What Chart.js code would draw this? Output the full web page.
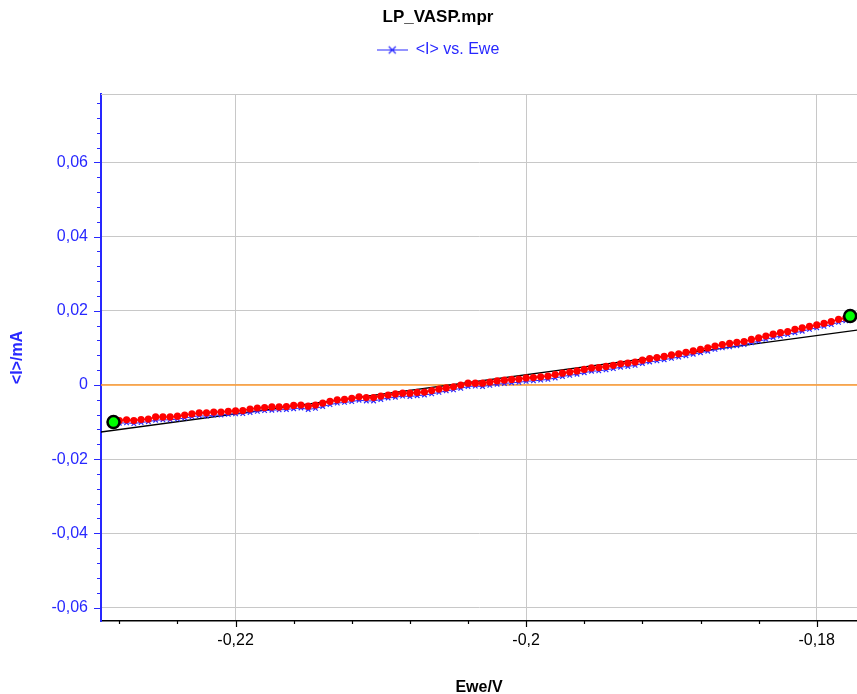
<!DOCTYPE html>
<html><head><meta charset="utf-8">
<script src="https://cdn.jsdelivr.net/npm/chart.js@4.4.0/dist/chart.umd.min.js"></script>
<style>html,body{margin:0;padding:0;background:#fff;}#wrap{width:857px;height:694px;}</style>
</head><body><div id="wrap"><canvas id="c" width="857" height="694"></canvas></div>
<script>
// Ewe/V
const potential = [
-0.2285,-0.228,-0.2275,-0.227,-0.2265,-0.226,-0.2255,-0.225,-0.2245,-0.224,
-0.2235,-0.223,-0.2225,-0.222,-0.2215,-0.221,-0.2205,-0.22,-0.2195,-0.219,
-0.2185,-0.218,-0.2175,-0.217,-0.2165,-0.216,-0.2155,-0.215,-0.2145,-0.214,
-0.2135,-0.213,-0.2125,-0.212,-0.2115,-0.211,-0.2105,-0.21,-0.2095,-0.209,
-0.2085,-0.208,-0.2075,-0.207,-0.2065,-0.206,-0.2055,-0.205,-0.2045,-0.204,
-0.2035,-0.203,-0.2025,-0.202,-0.2015,-0.201,-0.2005,-0.2,-0.1995,-0.199,
-0.1985,-0.198,-0.1975,-0.197,-0.1965,-0.196,-0.1955,-0.195,-0.1945,-0.194,
-0.1935,-0.193,-0.1925,-0.192,-0.1915,-0.191,-0.1905,-0.19,-0.1895,-0.189,
-0.1885,-0.188,-0.1875,-0.187,-0.1865,-0.186,-0.1855,-0.185,-0.1845,-0.184,
-0.1835,-0.183,-0.1825,-0.182,-0.1815,-0.181,-0.1805,-0.18,-0.1795,-0.179,
-0.1785,-0.178];
// <I>/mA, highlighted points (red)
const currentRed = [
-0.0097,-0.0096,-0.0094,-0.0096,-0.0093,-0.0092,-0.0086,-0.0086,-0.0086,-0.0084,
-0.0081,-0.0078,-0.0075,-0.0075,-0.0073,-0.0073,-0.0071,-0.0070,-0.0069,-0.0065,
-0.0062,-0.0061,-0.0059,-0.0059,-0.0058,-0.0055,-0.0054,-0.0057,-0.0054,-0.0049,
-0.0044,-0.0040,-0.0039,-0.0036,-0.0032,-0.0034,-0.0034,-0.0030,-0.0027,-0.0024,
-0.0022,-0.0022,-0.0020,-0.0019,-0.0015,-0.0011,-0.0008,-0.0005,0.0000,0.0005,
0.0005,0.0005,0.0008,0.0011,0.0013,0.0015,0.0016,0.0019,0.0020,0.0022,
0.0024,0.0028,0.0032,0.0035,0.0038,0.0042,0.0046,0.0047,0.0050,0.0053,
0.0057,0.0059,0.0062,0.0067,0.0071,0.0074,0.0077,0.0081,0.0084,0.0088,
0.0092,0.0096,0.0100,0.0105,0.0109,0.0112,0.0115,0.0117,0.0123,0.0127,
0.0132,0.0137,0.0141,0.0144,0.0150,0.0154,0.0158,0.0162,0.0166,0.0171,
0.0177,0.0181];
// <I>/mA, series "<I> vs. Ewe" (blue)
const currentBlue = [
-0.0105,-0.0103,-0.0102,-0.0104,-0.0101,-0.0099,-0.0095,-0.0094,-0.0094,-0.0092,
-0.0089,-0.0086,-0.0083,-0.0084,-0.0081,-0.0081,-0.0079,-0.0078,-0.0077,-0.0074,
-0.0071,-0.0069,-0.0068,-0.0067,-0.0066,-0.0064,-0.0062,-0.0066,-0.0063,-0.0058,
-0.0053,-0.0049,-0.0047,-0.0045,-0.0041,-0.0043,-0.0043,-0.0039,-0.0035,-0.0033,
-0.0030,-0.0031,-0.0029,-0.0027,-0.0024,-0.0020,-0.0016,-0.0013,-0.0009,-0.0004,
-0.0003,-0.0004,-0.0001,0.0002,0.0004,0.0006,0.0007,0.0010,0.0011,0.0013,
0.0015,0.0019,0.0023,0.0026,0.0029,0.0033,0.0037,0.0038,0.0041,0.0044,
0.0048,0.0050,0.0053,0.0058,0.0062,0.0065,0.0068,0.0072,0.0075,0.0079,
0.0083,0.0087,0.0091,0.0096,0.0100,0.0103,0.0106,0.0109,0.0114,0.0118,
0.0123,0.0128,0.0132,0.0136,0.0141,0.0145,0.0150,0.0154,0.0158,0.0163,
0.0169,0.0173];
// linear fit line
const fitPotential = [-0.2293, -0.1772];
const fitCurrent = [-0.0127, 0.0148];
// zero current reference line
const zeroPotential = [-0.2293, -0.1772];
const zeroCurrent = [0, 0];
// selection end points (green)
const endPotential = [-0.2284, -0.1777];
const endCurrent = [-0.0100, 0.0186];
// axis ticks
const yTickValues = [-0.06, -0.04, -0.02, 0, 0.02, 0.04, 0.06];
const yTickLabels = ['-0,06', '-0,04', '-0,02', '0', '0,02', '0,04', '0,06'];
const xTickValues = [-0.22, -0.2, -0.18];
const xTickLabels = ['-0,22', '-0,2', '-0,18'];
const minorStep = 0.004;

const BLUE = '#2828ff';
const FONT = 'Liberation Sans, Arial, sans-serif';
const pts = (xs, ys) => xs.map((x, i) => ({x: x, y: ys[i]}));

// legend symbol: line with a cross marker
const legendSym = document.createElement('canvas');
legendSym.width = 31; legendSym.height = 11;
(function(){
  const g = legendSym.getContext('2d');
  g.strokeStyle = BLUE; g.lineWidth = 1.2;
  g.beginPath(); g.moveTo(0, 5.5); g.lineTo(31, 5.5);
  g.moveTo(12, 2); g.lineTo(19, 9); g.moveTo(12, 9); g.lineTo(19, 2);
  g.stroke();
})();

const decor = {
  id: 'decor',
  beforeDatasetsDraw(chart) {
    const {ctx, chartArea: a} = chart;
    ctx.save();
    ctx.strokeStyle = '#c8c8c8'; ctx.lineWidth = 1;
    ctx.beginPath(); ctx.moveTo(a.left, a.top + 0.5); ctx.lineTo(a.right, a.top + 0.5); ctx.stroke();
    ctx.restore();
  },
  afterDraw(chart) {
    const {ctx, chartArea: a, scales} = chart;
    const x = scales.x, y = scales.y;
    ctx.save();
    ctx.lineWidth = 1.2;
    ctx.strokeStyle = BLUE;
    ctx.beginPath();
    for (let k = Math.ceil(y.min / minorStep); k * minorStep <= y.max; k++) {
      const p = Math.round(y.getPixelForValue(k * minorStep)) + 0.5;
      const major = k % 5 === 0;
      ctx.moveTo(a.left - (major ? 7 : 4), p); ctx.lineTo(a.left, p);
    }
    ctx.stroke();
    ctx.strokeStyle = '#000';
    ctx.beginPath();
    for (let k = Math.ceil(x.min / minorStep); k * minorStep <= x.max; k++) {
      const p = Math.round(x.getPixelForValue(k * minorStep)) + 0.5;
      const major = k % 5 === 0;
      ctx.moveTo(p, a.bottom); ctx.lineTo(p, a.bottom + (major ? 6 : 3));
    }
    ctx.stroke();
    ctx.restore();
  }
};

new Chart(document.getElementById('c'), {
  type: 'scatter',
  data: {
    datasets: [
      {label: 'ends', data: pts(endPotential, endCurrent), order: 0, showLine: false,
       pointRadius: 6, pointBackgroundColor: '#00ff00', pointBorderColor: '#000', pointBorderWidth: 2.5},
      {label: 'selection', data: pts(potential, currentRed), order: 1, showLine: true,
       borderColor: '#ff0000', borderWidth: 1.5, pointRadius: 3.6, pointBackgroundColor: '#ff0000', pointBorderWidth: 0},
      {label: '<I> vs. Ewe', data: pts(potential, currentBlue), order: 2, showLine: true,
       borderColor: BLUE, borderWidth: 1, pointStyle: 'crossRot', pointRadius: 3.2, pointBorderColor: BLUE, pointBorderWidth: 1.2},
      {label: 'fit', data: pts(fitPotential, fitCurrent), order: 3, showLine: true,
       borderColor: '#000', borderWidth: 1.3, pointRadius: 0},
      {label: 'zero', data: pts(zeroPotential, zeroCurrent), order: 4, showLine: true,
       borderColor: '#ff9a2e', borderWidth: 1.6, pointRadius: 0}
    ]
  },
  options: {
    responsive: false, animation: false, devicePixelRatio: 1,
    layout: {autoPadding: false, padding: {left: 19, right: 0, top: 0, bottom: 0}},
    plugins: {
      tooltip: {enabled: false},
      title: {display: true, text: 'LP_VASP.mpr', color: '#000', weight: 2000,
        font: {family: FONT, size: 17, weight: 'bold'}, padding: {top: 7, bottom: 0}},
      legend: {display: true, weight: 1000,
        labels: {color: BLUE, font: {family: FONT, size: 16}, usePointStyle: true, pointStyleWidth: 31, padding: 14.6,
          generateLabels: () => [{text: '<I> vs. Ewe', pointStyle: legendSym, fontColor: BLUE, hidden: false,
            lineWidth: 0, strokeStyle: 'rgba(0,0,0,0)', fillStyle: 'rgba(0,0,0,0)', datasetIndex: 2}]}},
      subtitle: {display: true, text: ' ', weight: 500, font: {size: 1, lineHeight: 1}, padding: {top: 0, bottom: 25}}
    },
    scales: {
      x: {type: 'linear', min: -0.22926, max: -0.17723,
        afterFit: s => { s.height = 73; s.paddingLeft = 0; s.paddingRight = 0; },
        afterBuildTicks: s => { s.ticks = xTickValues.map(v => ({value: v})); },
        grid: {color: '#c8c8c8', lineWidth: 1, drawTicks: false},
        border: {color: '#000', width: 1.5},
        ticks: {color: '#000', padding: 10, font: {family: FONT, size: 16}, maxRotation: 0,
          callback: (v, i) => xTickLabels[i]},
        title: {display: true, text: 'Ewe/V', color: '#000', font: {family: FONT, size: 16, weight: 'bold'}, padding: {top: 0, bottom: -3}}
      },
      y: {type: 'linear', min: -0.06364, max: 0.07847,
        afterFit: s => { s.width = 82; s.paddingTop = 0; s.paddingBottom = 0; },
        afterBuildTicks: s => { s.ticks = yTickValues.map(v => ({value: v})); },
        grid: {color: '#c8c8c8', lineWidth: 1, drawTicks: false},
        border: {color: BLUE, width: 2},
        ticks: {color: BLUE, padding: 13, font: {family: FONT, size: 16},
          callback: (v, i) => yTickLabels[i]},
        title: {display: true, text: '<I>/mA', color: BLUE, font: {family: FONT, size: 16, weight: 'bold'}, padding: {top: -10.6, bottom: 0}}
      }
    }
  },
  plugins: [decor]
});
</script></body></html>
